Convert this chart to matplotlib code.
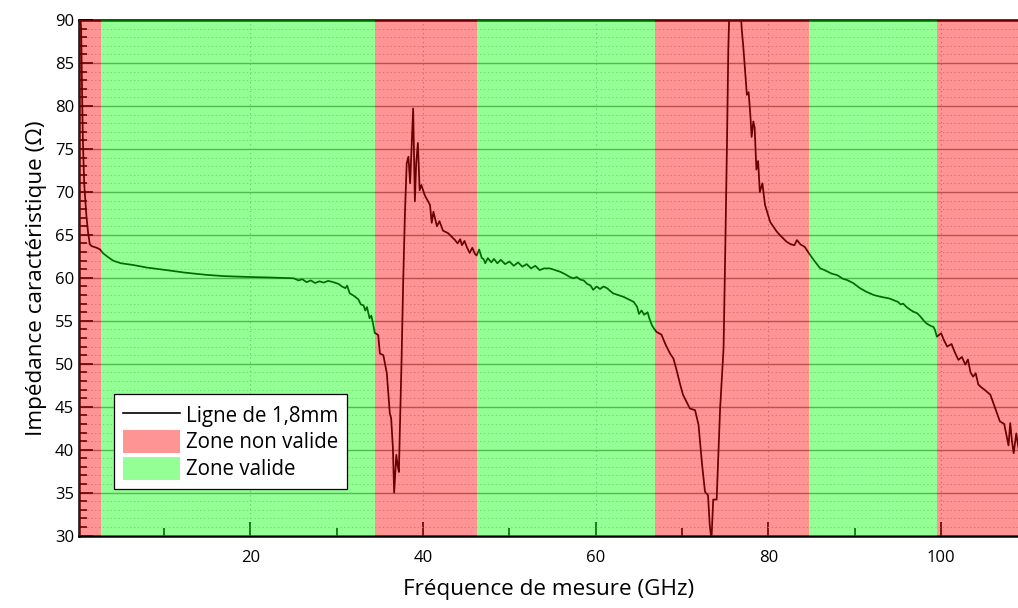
"""Impédance caractéristique d'une ligne de 1,8 mm selon la fréquence."""
import matplotlib
matplotlib.use("Agg")
import matplotlib.pyplot as plt
from matplotlib.lines import Line2D
from matplotlib.patches import Patch
from matplotlib.ticker import MultipleLocator

plt.rcParams["font.family"] = ["Open Sans", "DejaVu Sans"]

# mesure (GHz, ohms)
FREQ = [
    0.15, 0.4, 0.5, 0.6, 0.75, 1.0, 1.2, 1.4, 1.6, 2.2, 2.6, 2.9, 3.4, 4.1,
    5.0, 6.4, 8.0, 10.3, 12.5, 14.9, 17.0, 19.9, 22.0, 25.0, 25.6, 26.0,
    26.5, 27.0, 27.5, 28.0, 28.5, 29.0, 29.6, 30.2, 30.6, 31.0, 31.2, 31.5,
    32.0, 32.5, 32.8, 33.1, 33.3, 33.5, 33.8, 34.0, 34.2, 34.4, 34.8, 35.0,
    35.4, 35.8, 36.15, 36.3, 36.5, 36.65, 36.9, 37.05, 37.2, 37.3, 37.5,
    37.7, 37.9, 38.1, 38.3, 38.5, 38.7, 38.85, 39.05, 39.2, 39.4, 39.6,
    39.8, 40.2, 40.8, 41.0, 41.2, 41.6, 41.9, 42.3, 42.9, 43.3, 43.7, 44.0,
    44.3, 44.5, 44.8, 45.1, 45.4, 45.7, 46.0, 46.2, 46.5, 46.8, 47.0, 47.2,
    47.5, 47.9, 48.2, 48.6, 49.0, 49.5, 50.0, 50.5, 51.0, 51.5, 52.0, 52.5,
    53.0, 53.5, 54.0, 54.7, 55.3, 55.9, 56.5, 57.0, 57.4, 57.8, 58.2, 58.6,
    59.0, 59.4, 59.7, 60.1, 60.5, 60.9, 61.3, 62.0, 62.6, 63.2, 63.8, 64.4,
    64.8, 65.0, 65.3, 65.6, 66.0, 66.2, 66.5, 66.8, 67.05, 67.6, 68.1, 68.6,
    69.0, 69.4, 69.8, 70.1, 70.5, 70.9, 71.5, 71.9, 72.3, 72.65, 73.0, 73.2,
    73.4, 73.6, 74.0, 74.4, 74.8, 75.0, 75.2, 75.35, 75.6, 76.4, 76.9, 77.1,
    77.5, 77.7, 77.9, 78.05, 78.25, 78.4, 78.6, 78.8, 79.0, 79.3, 79.6,
    80.2, 80.95, 81.4, 82.1, 82.6, 83.0, 83.3, 83.7, 84.2, 84.8, 85.3, 86.0,
    86.5, 87.3, 88.0, 88.6, 89.1, 89.8, 90.6, 91.3, 92.2, 93.0, 94.0, 94.5,
    95.0, 95.3, 95.6, 96.0, 96.4, 96.8, 97.2, 97.6, 98.0, 98.3, 98.8, 99.1,
    99.3, 99.5, 100.0, 100.3, 100.7, 101.2, 101.6, 102.0, 102.4, 102.8,
    103.1, 103.4, 103.7, 104.0, 104.3, 104.6, 105.0, 105.7, 106.2, 106.8,
    107.3, 107.6, 107.8, 108.0, 108.2, 108.4, 108.7, 109.2,
]
IMPEDANCE = [
    93.0, 89.0, 82.0, 76.0, 71.0, 67.3, 65.3, 63.9, 63.7, 63.5, 63.3, 62.9,
    62.5, 62.0, 61.7, 61.5, 61.2, 60.9, 60.6, 60.35, 60.2, 60.1, 60.05,
    59.95, 59.7, 59.85, 59.5, 59.7, 59.4, 59.6, 59.45, 59.65, 59.5, 59.3,
    59.0, 58.8, 59.1, 58.2, 57.9, 57.5, 56.9, 56.8, 56.2, 56.6, 55.3, 55.6,
    54.7, 53.6, 53.35, 51.2, 51.0, 48.9, 44.2, 43.7, 40.3, 35.0, 39.4, 38.2,
    37.4, 41.9, 50.1, 59.7, 67.5, 73.3, 74.1, 71.0, 76.0, 79.7, 68.9, 73.3,
    75.7, 70.2, 70.8, 69.6, 68.5, 66.4, 67.7, 66.0, 66.6, 65.5, 65.2, 64.8,
    64.4, 64.0, 64.5, 63.8, 64.3, 63.5, 62.9, 63.5, 62.8, 62.6, 63.3, 62.3,
    62.2, 61.7, 62.3, 61.8, 62.2, 61.7, 62.1, 61.6, 61.9, 61.4, 61.8, 61.3,
    61.6, 61.1, 61.4, 60.9, 61.1, 61.1, 60.9, 60.7, 60.4, 60.1, 59.95, 60.1,
    59.8, 59.7, 59.3, 59.1, 58.6, 59.0, 58.7, 59.0, 58.8, 58.2, 58.0, 57.8,
    57.5, 57.2, 56.6, 55.8, 56.2, 55.7, 56.0, 55.3, 54.5, 54.0, 53.7, 53.4,
    52.2, 51.2, 50.6, 49.1, 47.5, 46.4, 45.6, 44.8, 44.6, 42.9, 38.4, 35.1,
    34.7, 31.2, 29.5, 34.2, 34.2, 44.8, 51.8, 63.4, 75.9, 86.7, 96.0, 98.0,
    89.0, 86.7, 81.3, 81.6, 79.0, 76.4, 78.2, 77.5, 72.6, 73.6, 70.0, 71.0,
    68.5, 66.5, 65.4, 64.9, 64.2, 63.9, 63.8, 64.4, 63.9, 63.6, 62.7, 62.0,
    61.1, 60.9, 60.5, 60.3, 59.9, 59.75, 59.4, 58.8, 58.4, 58.0, 57.8, 57.6,
    57.4, 57.2, 56.9, 57.0, 56.6, 56.3, 56.05, 55.9, 55.5, 55.0, 54.7, 54.4,
    54.3, 53.9, 53.15, 53.55, 52.8, 52.0, 52.3, 51.3, 50.45, 50.8, 49.9,
    50.5, 49.0, 48.5, 48.9, 47.6, 47.3, 47.0, 46.4, 45.0, 43.3, 43.0, 41.5,
    40.5, 43.1, 41.0, 39.6, 41.9, 38.5,
]

# zones de validité (début, fin en GHz)
ZONES_NON_VALIDES = [(0.0, 2.75), (34.4, 46.3), (66.9, 84.7), (99.5, 115.0)]
ZONES_VALIDES = [(2.75, 34.4), (46.3, 66.9), (84.7, 99.5)]

ROUGE = "#ff0000"
VERT = "#00ff00"
ALPHA = 0.42


def main() -> None:
    fig = plt.figure(figsize=(10.18, 6.08), dpi=100)
    ax = fig.add_axes([0.0776, 0.119, 0.9224, 0.848])

    ax.plot(FREQ, IMPEDANCE, color="black", lw=1.25, zorder=2)

    for a, b in ZONES_NON_VALIDES:
        ax.axvspan(a, b, color=ROUGE, alpha=ALPHA, lw=0, zorder=3)
    for a, b in ZONES_VALIDES:
        ax.axvspan(a, b, color=VERT, alpha=ALPHA, lw=0, zorder=3)

    ax.set_xlim(0.15, 108.9)
    ax.set_ylim(30, 90)

    ax.xaxis.set_major_locator(MultipleLocator(20))
    ax.xaxis.set_minor_locator(MultipleLocator(10))
    ax.yaxis.set_major_locator(MultipleLocator(5))
    ax.yaxis.set_minor_locator(MultipleLocator(1))
    ax.tick_params(which="both", direction="in", width=1.2, labelsize=12)
    ax.tick_params(which="major", length=10)
    ax.tick_params(which="minor", length=6)
    ax.tick_params(axis="x", pad=10)

    ax.grid(axis="y", which="major", color="#8c8c8c", lw=1.0)
    ax.grid(axis="y", which="minor", color="#c4c4c4", lw=0.7, ls=(0, (1.5, 2.5)))
    ax.grid(axis="x", which="major", color="#a8a8a8", lw=0.8, ls=(0, (1, 3)))

    for side in ("left", "bottom", "top"):
        ax.spines[side].set_linewidth(1.8)
    ax.spines["right"].set_visible(False)

    ax.set_xlabel("Fréquence de mesure (GHz)", fontsize=16.2, labelpad=10)
    ax.set_ylabel("Impédance caractéristique (Ω)", fontsize=16.2, labelpad=6)

    handles = [
        Line2D([0], [0], color="black", lw=1.2, label="Ligne de 1,8mm"),
        Patch(facecolor=ROUGE, alpha=ALPHA, lw=0, label="Zone non valide"),
        Patch(facecolor=VERT, alpha=ALPHA, lw=0, label="Zone valide"),
    ]
    leg = ax.legend(
        handles=handles, loc="lower left", bbox_to_anchor=(0.037, 0.09),
        borderaxespad=0, fontsize=14.8, frameon=True, fancybox=False,
        framealpha=1, edgecolor="black", handlelength=2.75, handleheight=1.36,
        labelspacing=0.15, handletextpad=0.3, borderpad=0.45,
    )
    leg.get_frame().set_linewidth(0.9)
    leg.set_zorder(6)

    fig.savefig("out.png", dpi=100)


if __name__ == "__main__":
    main()
